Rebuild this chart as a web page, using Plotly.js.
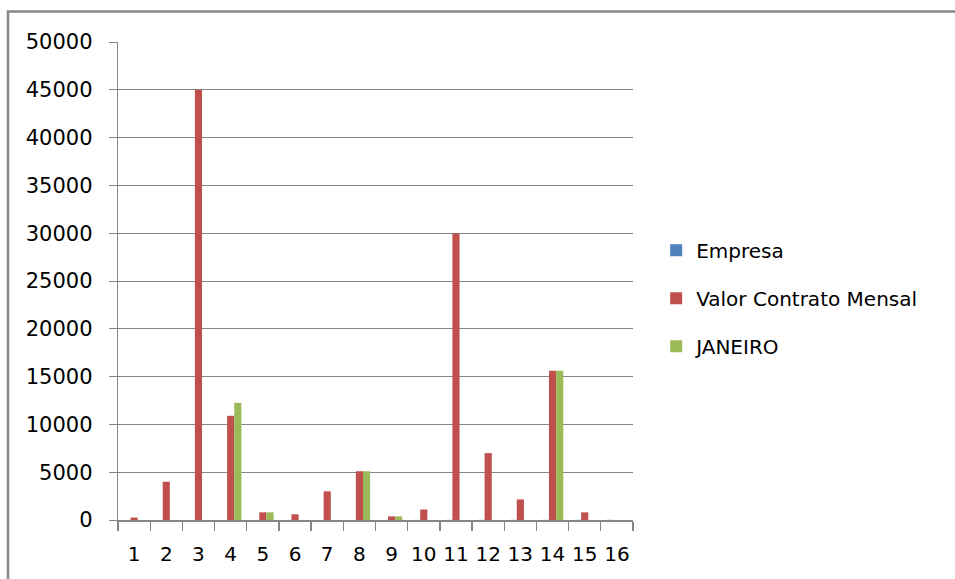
<!DOCTYPE html>
<html>
<head>
<meta charset="utf-8">
<script src="https://cdn.plot.ly/plotly-3.0.1.min.js"></script>
<style>html,body{margin:0;padding:0;background:#fff;}#chart{width:955px;height:579px;}</style>
</head>
<body>
<div id="chart"></div>
<script>
const categories = ['1','2','3','4','5','6','7','8','9','10','11','12','13','14','15','16'];
const empresa = [1,2,3,4,5,6,7,8,9,10,11,12,13,14,15,16];
const valorContratoMensal = [250,4000,45000,10900,800,600,3000,5100,380,1100,30000,7000,2150,15600,800,0];
const janeiro = [0,0,0,12250,800,0,0,5100,380,0,0,0,0,15600,0,0];
const seriesNames = ['Empresa','Valor Contrato Mensal','JANEIRO'];
const yTicks = [0,5000,10000,15000,20000,25000,30000,35000,40000,45000,50000];

const colors = ['#4F81BD','#C0504D','#9BBB59'];
const seriesValues = [empresa, valorContratoMensal, janeiro];
const traces = seriesValues.map((v,i)=>({
  type:'bar', x:categories, y:v, name:seriesNames[i],
  marker:{color:colors[i], line:{width:0}},
  legendgroup:'g'+i, hoverinfo:'x+y+name'
}));

const font = {family:'DejaVu Sans, Verdana, sans-serif', color:'#000'};
const layout = {
  width:955, height:579,
  margin:{l:118, r:322, t:42, b:59, pad:0},
  paper_bgcolor:'#fff', plot_bgcolor:'#fff',
  barmode:'group', bargap:0.333, bargroupgap:0,
  font:Object.assign({size:20}, font),
  showlegend:true,
  legend:{
    x:1.045, xanchor:'left', y:0.464, yanchor:'middle',
    font:Object.assign({size:20}, font),
    tracegroupgap:19, itemwidth:30, bgcolor:'rgba(0,0,0,0)'
  },
  xaxis:{
    type:'category', tickson:'boundaries', ticks:'outside', ticklen:9,
    tickcolor:'#868686', tickwidth:1.3, tickangle:0,
    showline:true, linecolor:'#868686', linewidth:1.5,
    showgrid:false, zeroline:false,
    tickfont:Object.assign({size:20}, font),
    ticklabelstandoff:15, fixedrange:true
  },
  yaxis:{
    range:[0,50000], tickvals:yTicks, ticktext:yTicks.map(String),
    ticks:'outside', ticklen:8, tickcolor:'#868686', tickwidth:1,
    showline:true, linecolor:'#868686', linewidth:1.3,
    showgrid:true, gridcolor:'#868686', gridwidth:1,
    zeroline:false,
    tickfont:Object.assign({size:21}, font),
    ticklabelstandoff:12, fixedrange:true
  },
  shapes:[{
    type:'rect', xref:'paper', yref:'paper',
    x0:-0.2136, x1:1.7, y0:-0.2, y1:1.064,
    line:{color:'#888888', width:2.5}, fillcolor:'rgba(0,0,0,0)', layer:'above'
  }]
};
Plotly.newPlot('chart', traces, layout, {displayModeBar:false, staticPlot:true});
</script>
</body>
</html>
